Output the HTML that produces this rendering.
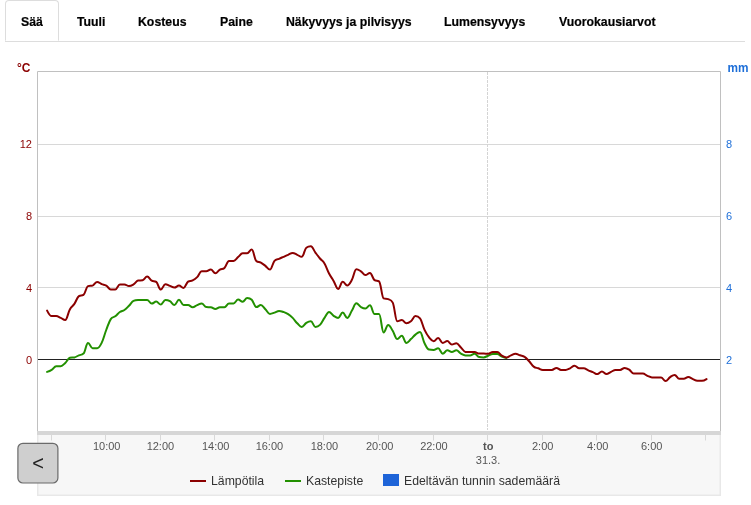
<!DOCTYPE html>
<html lang="fi">
<head>
<meta charset="utf-8">
<title>Sää</title>
<style>
html,body{margin:0;padding:0;background:#fff;}
body{width:751px;height:505px;position:relative;overflow:hidden;font-family:"Liberation Sans",sans-serif;}
.tabs{position:absolute;left:5px;top:0;width:740px;height:41px;border-bottom:1px solid #ddd;}
.tab{position:absolute;top:14px;font-weight:bold;font-size:13px;line-height:15px;color:#000;-webkit-text-stroke:0.2px #000;white-space:nowrap;transform:scaleX(0.945);transform-origin:0 0;}
.active{position:absolute;left:5px;top:0;width:52px;height:39px;border:1px solid #ddd;border-bottom:1px solid #fff;border-radius:4px 4px 0 0;box-sizing:content-box;}
svg{position:absolute;left:0;top:0;}
</style>
</head>
<body>
<div class="tabs"></div>
<div class="active"></div>
<span class="tab" style="left:20.6px">Sää</span>
<span class="tab" style="left:77px">Tuuli</span>
<span class="tab" style="left:137.6px">Kosteus</span>
<span class="tab" style="left:219.7px">Paine</span>
<span class="tab" style="left:286px">Näkyvyys ja pilvisyys</span>
<span class="tab" style="left:444.4px">Lumensyvyys</span>
<span class="tab" style="left:559px">Vuorokausiarvot</span>
<svg width="751" height="505" viewBox="0 0 751 505" font-family="Liberation Sans, sans-serif">
<rect x="37" y="431" width="684" height="65" fill="#e8e8e8"/>
<rect x="38.5" y="435" width="681" height="59.5" fill="#f7f7f7"/>
<rect x="37" y="431" width="684" height="4" fill="#d6d6d6"/>
<path d="M37.5 431 V71.5 H720.5 V431" fill="none" stroke="#c0c0c0" stroke-width="1"/>
<g stroke="#d8d8d8" stroke-width="1">
<line x1="38" x2="720" y1="144.5" y2="144.5"/>
<line x1="38" x2="720" y1="216.5" y2="216.5"/>
<line x1="38" x2="720" y1="287.5" y2="287.5"/>
</g>
<line x1="38" x2="720" y1="359.5" y2="359.5" stroke="#222" stroke-width="1"/>
<line x1="487.5" x2="487.5" y1="72" y2="430" stroke="#d4d4d4" stroke-width="1" stroke-dasharray="3,1"/>
<g stroke="#d8d8d8" stroke-width="1">
<line x1="51.5" x2="51.5" y1="434.5" y2="440.5"/>
<line x1="105.5" x2="105.5" y1="434.5" y2="440.5"/>
<line x1="160.5" x2="160.5" y1="434.5" y2="440.5"/>
<line x1="214.5" x2="214.5" y1="434.5" y2="440.5"/>
<line x1="269.5" x2="269.5" y1="434.5" y2="440.5"/>
<line x1="323.5" x2="323.5" y1="434.5" y2="440.5"/>
<line x1="378.5" x2="378.5" y1="434.5" y2="440.5"/>
<line x1="433.5" x2="433.5" y1="434.5" y2="440.5"/>
<line x1="487.5" x2="487.5" y1="434.5" y2="440.5"/>
<line x1="542.5" x2="542.5" y1="434.5" y2="440.5"/>
<line x1="596.5" x2="596.5" y1="434.5" y2="440.5"/>
<line x1="651.5" x2="651.5" y1="434.5" y2="440.5"/>
<line x1="705.5" x2="705.5" y1="434.5" y2="440.5"/>
</g>
<g font-size="11" fill="#8b0000" text-anchor="end">
<text x="30.5" y="72" font-size="12" font-weight="bold">°C</text>
<text x="32" y="148">12</text>
<text x="32" y="220">8</text>
<text x="32" y="292">4</text>
<text x="32" y="364">0</text>
</g>
<g font-size="11" fill="#1e6fd8" text-anchor="start">
<text x="727.5" y="72" font-size="12" font-weight="bold" textLength="21" lengthAdjust="spacingAndGlyphs">mm</text>
<text x="726" y="148">8</text>
<text x="726" y="220">6</text>
<text x="726" y="292">4</text>
<text x="726" y="364">2</text>
</g>
<g font-size="11" fill="#555" text-anchor="middle">
<text x="106.7" y="450">10:00</text>
<text x="160.4" y="450">12:00</text>
<text x="215.7" y="450">14:00</text>
<text x="269.4" y="450">16:00</text>
<text x="324.4" y="450">18:00</text>
<text x="379.7" y="450">20:00</text>
<text x="433.9" y="450">22:00</text>
<text x="488.3" y="450" font-weight="bold">to</text>
<text x="488.0" y="464">31.3.</text>
<text x="542.7" y="450">2:00</text>
<text x="597.7" y="450">4:00</text>
<text x="651.7" y="450">6:00</text>
</g>
<path d="M47.10 371.90 C47.10 371.90 49.83 371.04 51.65 369.90 C53.47 368.76 54.38 366.20 56.20 366.20 C58.01 366.20 58.92 366.20 60.74 366.20 C62.56 366.20 63.47 364.58 65.29 362.90 C67.11 361.22 68.02 358.20 69.84 357.80 C71.66 357.40 72.57 357.80 74.39 357.40 C76.20 357.00 77.11 356.06 78.93 355.30 C80.75 354.54 81.66 355.30 83.48 353.60 C85.30 351.90 86.21 342.90 88.03 342.90 C89.85 342.90 90.76 348.30 92.58 348.30 C94.40 348.30 95.30 348.30 97.12 348.30 C98.94 348.30 99.85 346.56 101.67 342.90 C103.49 339.24 104.40 334.76 106.22 330.00 C108.04 325.24 108.95 321.84 110.77 319.10 C112.59 316.36 113.49 317.72 115.31 316.30 C117.13 314.88 118.04 313.26 119.86 312.00 C121.68 310.74 122.59 311.24 124.41 310.00 C126.23 308.76 127.14 307.64 128.96 305.80 C130.78 303.96 131.69 301.70 133.50 300.80 C135.32 299.90 136.23 299.90 138.05 299.90 C139.87 299.90 140.78 299.90 142.60 299.90 C144.42 299.90 145.33 299.90 147.15 299.90 C148.97 299.90 149.88 303.60 151.69 303.60 C153.51 303.60 154.42 301.60 156.24 301.60 C158.06 301.60 158.97 304.60 160.79 304.60 C162.61 304.60 163.52 300.10 165.34 300.10 C167.16 300.10 168.07 300.20 169.89 301.20 C171.70 302.20 172.61 305.10 174.43 305.10 C176.25 305.10 177.16 299.70 178.98 299.70 C180.80 299.70 181.71 305.10 183.53 305.10 C185.35 305.10 186.26 305.10 188.08 305.10 C189.89 305.10 190.80 307.20 192.62 307.20 C194.44 307.20 195.35 305.86 197.17 305.10 C198.99 304.34 199.90 303.40 201.72 303.40 C203.54 303.40 204.45 307.00 206.27 307.10 C208.09 307.20 208.99 307.10 210.81 307.20 C212.63 307.30 213.54 308.90 215.36 308.90 C217.18 308.90 218.09 307.20 219.91 307.20 C221.73 307.20 222.64 307.20 224.46 307.20 C226.28 307.20 227.18 303.40 229.00 303.40 C230.82 303.40 231.73 303.40 233.55 303.40 C235.37 303.40 236.28 299.60 238.10 299.60 C239.92 299.60 240.83 301.70 242.65 301.70 C244.47 301.70 245.38 297.90 247.19 297.90 C249.01 297.90 249.92 297.90 251.74 299.70 C253.56 301.50 254.47 307.10 256.29 307.10 C258.11 307.10 259.02 305.10 260.84 305.10 C262.66 305.10 263.57 307.44 265.38 309.20 C267.20 310.96 268.11 313.90 269.93 313.90 C271.75 313.90 272.66 313.20 274.48 312.60 C276.30 312.00 277.21 310.90 279.03 310.90 C280.85 310.90 281.76 311.36 283.58 312.00 C285.39 312.64 286.30 312.92 288.12 314.10 C289.94 315.28 290.85 316.06 292.67 317.90 C294.49 319.74 295.40 321.50 297.22 323.30 C299.04 325.10 299.95 326.90 301.77 326.90 C303.58 326.90 304.49 324.02 306.31 322.90 C308.13 321.78 309.04 321.30 310.86 321.30 C312.68 321.30 313.59 326.90 315.41 326.90 C317.23 326.90 318.14 326.70 319.96 324.90 C321.78 323.10 322.68 320.48 324.50 317.90 C326.32 315.32 327.23 312.00 329.05 312.00 C330.87 312.00 331.78 314.62 333.60 315.80 C335.42 316.98 336.33 317.90 338.15 317.90 C339.97 317.90 340.87 312.50 342.69 312.50 C344.51 312.50 345.42 317.90 347.24 317.90 C349.06 317.90 349.97 313.72 351.79 310.80 C353.61 307.88 354.52 303.30 356.34 303.30 C358.16 303.30 359.07 305.94 360.88 307.00 C362.70 308.06 363.61 308.60 365.43 308.60 C367.25 308.60 368.16 305.30 369.98 305.30 C371.80 305.30 372.71 314.10 374.53 314.10 C376.35 314.10 377.26 314.10 379.07 314.10 C380.89 314.10 381.80 332.40 383.62 332.40 C385.44 332.40 386.35 324.90 388.17 324.90 C389.99 324.90 390.90 327.96 392.72 330.80 C394.54 333.64 395.45 339.10 397.27 339.10 C399.08 339.10 399.99 335.80 401.81 335.80 C403.63 335.80 404.54 342.90 406.36 342.90 C408.18 342.90 409.09 340.76 410.91 339.10 C412.73 337.44 413.64 336.00 415.46 334.60 C417.27 333.20 418.18 332.10 420.00 332.10 C421.82 332.10 422.73 339.80 424.55 343.30 C426.37 346.80 427.28 349.30 429.10 349.60 C430.92 349.90 431.83 349.90 433.65 349.90 C435.47 349.90 436.37 348.30 438.19 348.30 C440.01 348.30 440.92 353.70 442.74 353.70 C444.56 353.70 445.47 350.30 447.29 350.30 C449.11 350.30 450.02 351.90 451.84 351.90 C453.66 351.90 454.56 350.30 456.38 350.30 C458.20 350.30 459.11 352.58 460.93 353.60 C462.75 354.62 463.66 355.40 465.48 355.40 C467.30 355.40 468.21 355.40 470.03 355.40 C471.85 355.40 472.76 353.70 474.57 353.70 C476.39 353.70 477.30 356.80 479.12 357.10 C480.94 357.40 481.85 357.40 483.67 357.40 C485.49 357.40 486.40 356.36 488.22 355.70 C490.04 355.04 490.95 354.10 492.76 354.10 C494.58 354.10 495.49 354.10 497.31 354.10 C499.13 354.10 500.04 355.84 501.86 356.60 C503.68 357.36 506.41 357.90 506.41 357.90" fill="none" stroke="#229000" stroke-width="2" stroke-linejoin="round" stroke-linecap="round"/>
<path d="M47.10 310.60 C47.10 310.60 49.83 316.10 51.65 316.10 C53.47 316.10 54.38 316.10 56.20 316.10 C58.01 316.10 58.92 317.14 60.74 317.90 C62.56 318.66 63.47 319.90 65.29 319.90 C67.11 319.90 68.02 312.60 69.84 309.40 C71.66 306.20 72.57 306.56 74.39 303.90 C76.20 301.24 77.11 297.30 78.93 296.10 C80.75 294.90 81.66 296.10 83.48 294.90 C85.30 293.70 86.21 286.60 88.03 286.10 C89.85 285.60 90.76 286.10 92.58 285.60 C94.40 285.10 95.30 281.90 97.12 281.90 C98.94 281.90 99.85 283.36 101.67 284.10 C103.49 284.84 104.40 284.54 106.22 285.60 C108.04 286.66 108.95 289.40 110.77 289.40 C112.59 289.40 113.49 289.40 115.31 289.40 C117.13 289.40 118.04 284.40 119.86 284.40 C121.68 284.40 122.59 284.40 124.41 284.40 C126.23 284.40 127.14 286.10 128.96 286.10 C130.78 286.10 131.69 285.50 133.50 284.40 C135.32 283.30 136.23 280.90 138.05 280.60 C139.87 280.30 140.78 280.60 142.60 280.30 C144.42 280.00 145.33 276.60 147.15 276.60 C148.97 276.60 149.88 279.54 151.69 280.60 C153.51 281.66 154.42 280.60 156.24 281.90 C158.06 283.20 158.97 289.60 160.79 289.60 C162.61 289.60 163.52 284.20 165.34 284.20 C167.16 284.20 168.07 285.22 169.89 285.90 C171.70 286.58 172.61 287.60 174.43 287.60 C176.25 287.60 177.16 285.60 178.98 285.60 C180.80 285.60 181.71 287.90 183.53 287.90 C185.35 287.90 186.26 282.80 188.08 281.60 C189.89 280.40 190.80 281.30 192.62 280.40 C194.44 279.50 195.35 278.92 197.17 277.10 C198.99 275.28 199.90 271.30 201.72 271.30 C203.54 271.30 204.45 271.30 206.27 271.30 C208.09 271.30 208.99 269.60 210.81 269.60 C212.63 269.60 213.54 273.30 215.36 273.30 C217.18 273.30 218.09 270.68 219.91 269.60 C221.73 268.52 222.64 269.60 224.46 267.90 C226.28 266.20 227.18 260.90 229.00 260.90 C230.82 260.90 231.73 260.90 233.55 260.90 C235.37 260.90 236.28 258.62 238.10 257.10 C239.92 255.58 240.83 253.30 242.65 253.30 C244.47 253.30 245.38 253.30 247.19 253.30 C249.01 253.30 249.92 249.60 251.74 249.60 C253.56 249.60 254.47 259.20 256.29 260.90 C258.11 262.60 259.02 261.60 260.84 262.60 C262.66 263.60 263.57 264.50 265.38 265.90 C267.20 267.30 268.11 269.60 269.93 269.60 C271.75 269.60 272.66 263.00 274.48 260.90 C276.30 258.80 277.21 259.62 279.03 258.80 C280.85 257.98 281.76 257.60 283.58 256.80 C285.39 256.00 286.30 255.56 288.12 254.80 C289.94 254.04 290.85 253.00 292.67 253.00 C294.49 253.00 295.40 254.04 297.22 254.80 C299.04 255.56 299.95 256.80 301.77 256.80 C303.58 256.80 304.49 249.10 306.31 247.70 C308.13 246.30 309.04 246.30 310.86 246.30 C312.68 246.30 313.59 250.16 315.41 252.60 C317.23 255.04 318.14 256.32 319.96 258.50 C321.78 260.68 322.68 260.50 324.50 263.50 C326.32 266.50 327.23 270.02 329.05 273.50 C330.87 276.98 331.78 277.82 333.60 280.90 C335.42 283.98 336.33 288.90 338.15 288.90 C339.97 288.90 340.87 281.80 342.69 281.80 C344.51 281.80 345.42 285.40 347.24 285.40 C349.06 285.40 349.97 283.32 351.79 280.10 C353.61 276.88 354.52 269.30 356.34 269.30 C358.16 269.30 359.07 270.14 360.88 271.30 C362.70 272.46 363.61 275.10 365.43 275.10 C367.25 275.10 368.16 273.00 369.98 273.00 C371.80 273.00 372.71 278.90 374.53 280.10 C376.35 281.30 377.26 280.10 379.07 281.30 C380.89 282.50 381.80 297.60 383.62 298.40 C385.44 299.20 386.35 298.40 388.17 299.20 C389.99 300.00 390.90 299.20 392.72 302.60 C394.54 306.00 395.45 321.30 397.27 321.30 C399.08 321.30 399.99 320.00 401.81 320.00 C403.63 320.00 404.54 323.30 406.36 323.30 C408.18 323.30 409.09 322.74 410.91 321.30 C412.73 319.86 413.64 316.10 415.46 316.10 C417.27 316.10 418.18 316.10 420.00 318.30 C421.82 320.50 422.73 326.08 424.55 329.90 C426.37 333.72 427.28 335.12 429.10 337.40 C430.92 339.68 431.83 341.30 433.65 341.30 C435.47 341.30 436.37 337.90 438.19 337.90 C440.01 337.90 440.92 342.90 442.74 342.90 C444.56 342.90 445.47 341.10 447.29 341.10 C449.11 341.10 450.02 344.60 451.84 344.60 C453.66 344.60 454.56 343.30 456.38 343.30 C458.20 343.30 459.11 345.68 460.93 347.40 C462.75 349.12 463.66 351.70 465.48 351.90 C467.30 352.10 468.21 352.10 470.03 352.10 C471.85 352.10 472.76 352.10 474.57 352.10 C476.39 352.10 477.30 353.60 479.12 353.60 C480.94 353.60 481.85 353.60 483.67 353.60 C485.49 353.60 486.40 353.70 488.22 353.70 C490.04 353.70 490.95 352.10 492.76 352.10 C494.58 352.10 495.49 352.10 497.31 352.10 C499.13 352.10 500.04 354.64 501.86 355.70 C503.68 356.76 504.59 357.40 506.41 357.40 C508.23 357.40 509.14 356.14 510.96 355.40 C512.77 354.66 513.68 353.70 515.50 353.70 C517.32 353.70 518.23 354.66 520.05 355.30 C521.87 355.94 522.78 355.70 524.60 356.90 C526.42 358.10 527.33 359.36 529.15 361.30 C530.96 363.24 531.87 365.20 533.69 366.60 C535.51 368.00 536.42 367.64 538.24 368.30 C540.06 368.96 540.97 369.90 542.79 369.90 C544.61 369.90 545.52 369.90 547.34 369.90 C549.16 369.90 550.06 369.90 551.88 369.90 C553.70 369.90 554.61 367.90 556.43 367.90 C558.25 367.90 559.16 369.90 560.98 369.90 C562.80 369.90 563.71 369.90 565.53 369.90 C567.35 369.90 568.25 369.12 570.07 368.30 C571.89 367.48 572.80 365.80 574.62 365.80 C576.44 365.80 577.35 368.30 579.17 368.30 C580.99 368.30 581.90 368.30 583.72 368.30 C585.54 368.30 586.45 369.54 588.26 370.30 C590.08 371.06 590.99 371.34 592.81 372.10 C594.63 372.86 595.54 374.10 597.36 374.10 C599.18 374.10 600.09 371.60 601.91 371.60 C603.73 371.60 604.64 374.10 606.45 374.10 C608.27 374.10 609.18 372.74 611.00 371.90 C612.82 371.06 613.73 369.90 615.55 369.90 C617.37 369.90 618.28 369.90 620.10 369.90 C621.92 369.90 622.83 367.90 624.65 367.90 C626.46 367.90 627.37 368.46 629.19 369.60 C631.01 370.74 631.92 373.60 633.74 373.60 C635.56 373.60 636.47 373.60 638.29 373.60 C640.11 373.60 641.02 373.60 642.84 373.60 C644.65 373.60 645.56 375.04 647.38 375.80 C649.20 376.56 650.11 377.40 651.93 377.40 C653.75 377.40 654.66 377.40 656.48 377.40 C658.30 377.40 659.21 377.40 661.03 377.40 C662.85 377.40 663.75 381.10 665.57 381.10 C667.39 381.10 668.30 378.34 670.12 377.10 C671.94 375.86 672.85 374.90 674.67 374.90 C676.49 374.90 677.40 378.80 679.22 378.80 C681.04 378.80 681.94 378.80 683.76 378.80 C685.58 378.80 686.49 377.10 688.31 377.10 C690.13 377.10 691.04 378.36 692.86 379.10 C694.68 379.84 695.59 380.80 697.41 380.80 C699.23 380.80 700.14 380.80 701.95 380.80 C703.77 380.80 706.50 379.10 706.50 379.10" fill="none" stroke="#8b0000" stroke-width="2" stroke-linejoin="round" stroke-linecap="round"/>
<line x1="190" x2="206" y1="481" y2="481" stroke="#8b0000" stroke-width="2"/>
<text x="211" y="485" font-size="12.25" fill="#333">Lämpötila</text>
<line x1="285" x2="301" y1="481" y2="481" stroke="#229000" stroke-width="2"/>
<text x="306" y="485" font-size="12.25" fill="#333">Kastepiste</text>
<rect x="383" y="474" width="16" height="12" fill="#1e64d8"/>
<text x="404" y="485" font-size="12.25" fill="#333">Edeltävän tunnin sademäärä</text>
<rect x="17.9" y="443.3" width="40" height="39.7" rx="5" ry="5" fill="#cfcfcf" stroke="#6a6a6a" stroke-width="1.2"/>
<text x="38" y="469.6" font-size="20" fill="#222" text-anchor="middle">&lt;</text>
</svg>
</body>
</html>
